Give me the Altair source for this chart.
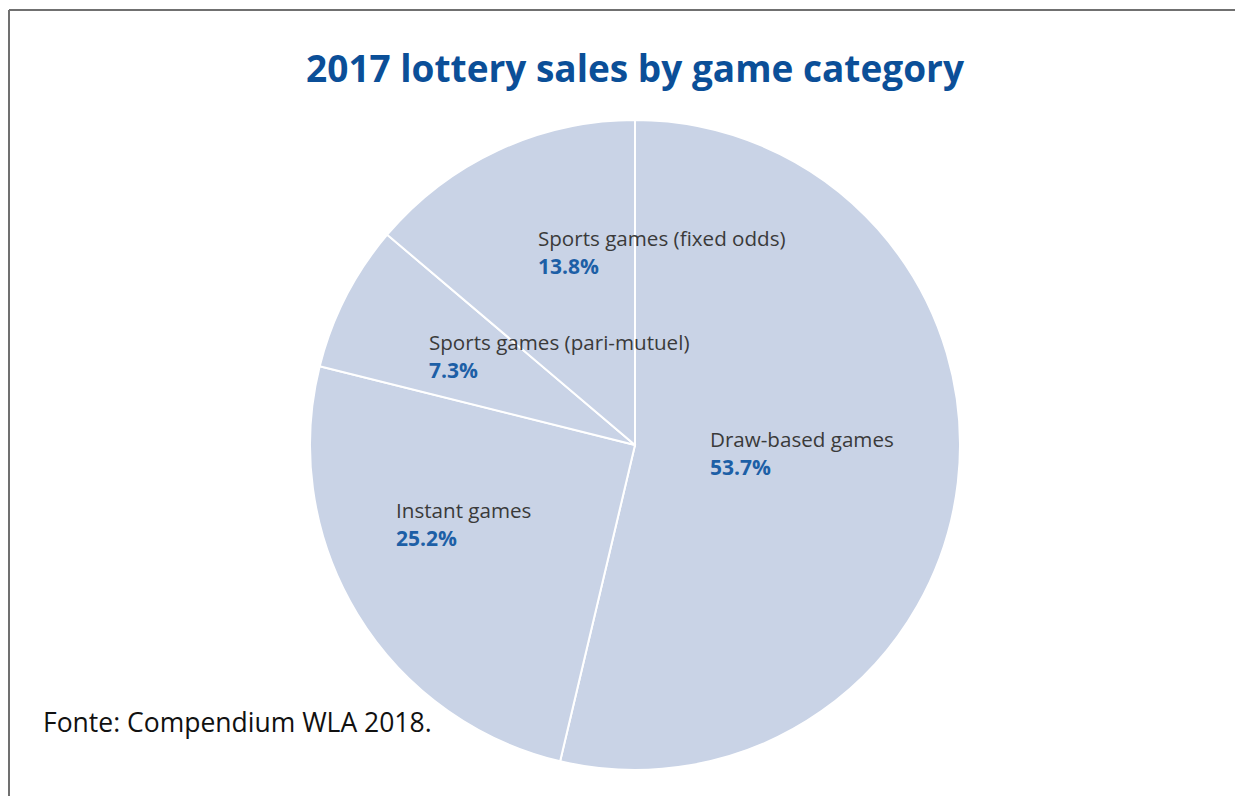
import altair as alt
import pandas as pd

# ---- data ----
categories = ["Draw-based games", "Instant games",
              "Sports games (pari-mutuel)", "Sports games (fixed odds)"]
shares = [53.7, 25.2, 7.3, 13.8]
pct_labels = ["53.7%", "25.2%", "7.3%", "13.8%"]

title_text = "2017 lottery sales by game category"
source_text = "Fonte: Compendium WLA 2018."

df = pd.DataFrame({
    "category": categories,
    "share": shares,
    "pct": pct_labels,
    "order": list(range(len(categories))),
})

# ---- layout / style ----
W, H = 1227, 788
CX, CY = 627, 437          # pie centre inside the view
R = 325
PIE_FILL = "#C9D3E6"
LABEL_COLOR = "#3a3a3a"
PCT_COLOR = "#1d5fa6"
TITLE_COLOR = "#0b4f98"
FONT = "Open Sans"

# per-label placement: radius along slice mid-angle + pixel nudge
label_layout = {
    "Draw-based games": (80, -4.5, -13.3),
    "Instant games": (200, -68.1, -37.0),
    "Sports games (pari-mutuel)": (180, -45.9, -18.8),
    "Sports games (fixed odds)": (200, -13.0, -23.5),
}
LINE_GAP = 28

base = alt.Chart(df)

pie = base.mark_arc(outerRadius=R, fill=PIE_FILL, stroke="white", strokeWidth=2).encode(
    theta=alt.Theta("share:Q", stack=True),
    order=alt.Order("order:Q"),
    x=alt.value(CX),
    y=alt.value(CY),
)

mid = (
    base.transform_window(cum="sum(share)", sort=[alt.SortField("order")])
    .transform_calculate(mid="datum.cum - datum.share / 2")
)

layers = [pie]
for cat, (rad, dx, dy) in label_layout.items():
    sel = mid.transform_filter(alt.datum.category == cat)
    enc = dict(
        theta=alt.Theta("mid:Q", scale=alt.Scale(domain=[0, 100])),
        x=alt.value(CX),
        y=alt.value(CY),
    )
    layers.append(
        sel.mark_text(radius=rad, dx=dx, dy=dy, align="left", baseline="middle",
                      font=FONT, fontSize=20.6, color=LABEL_COLOR)
        .encode(text="category:N", **enc)
    )
    layers.append(
        sel.mark_text(radius=rad, dx=dx, dy=dy + LINE_GAP, align="left", baseline="middle",
                      font=FONT, fontSize=21, fontWeight="bold", color=PCT_COLOR)
        .encode(text="pct:N", **enc)
    )

src = alt.Chart(pd.DataFrame({"t": [source_text]})).mark_text(
    align="left", baseline="middle", font=FONT, fontSize=26.5, color="#111111"
).encode(text="t:N", x=alt.value(35), y=alt.value(716))

frame_top = alt.Chart(pd.DataFrame({"a": [0]})).mark_rule(color="#707070", strokeWidth=2).encode(
    x=alt.value(1), x2=alt.value(W), y=alt.value(2))
frame_left = alt.Chart(pd.DataFrame({"a": [0]})).mark_rule(color="#707070", strokeWidth=2).encode(
    x=alt.value(1), y=alt.value(2), y2=alt.value(H))

chart = alt.layer(*layers, src, frame_top, frame_left).properties(
    width=W, height=H,
    autosize=alt.AutoSizeParams(type="none"),
    padding=0,
    title=alt.TitleParams(title_text, font=FONT, fontSize=37, fontWeight="bold",
                          color=TITLE_COLOR, anchor="middle", dx=13.5,
                          offset=-111, baseline="alphabetic"),
).configure_view(stroke=None)

chart.save("out.html", embed_options={"renderer": "svg", "actions": False})
